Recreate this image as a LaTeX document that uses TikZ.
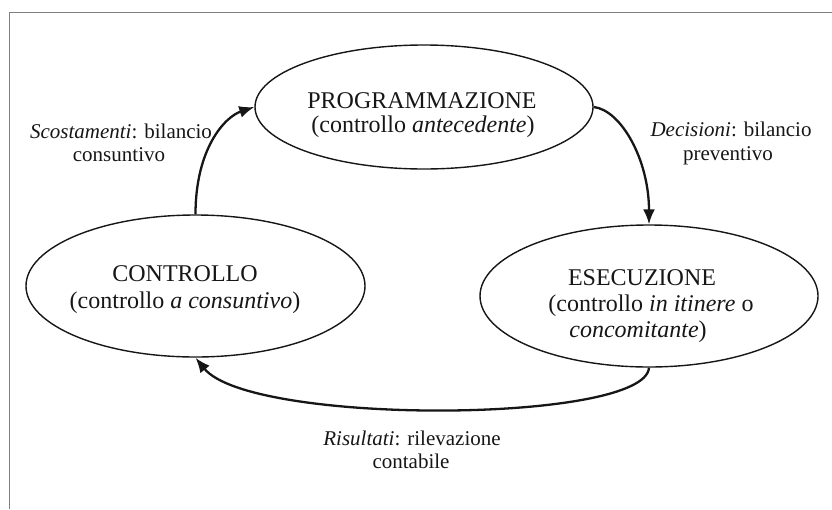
\documentclass[tikz,border=0pt]{standalone}
\usepackage{fontspec}
\setmainfont{Liberation Serif}
\usetikzlibrary{shapes.geometric,arrows.meta}
\definecolor{ink}{HTML}{161616}
\definecolor{framegray}{HTML}{808080}
\tikzset{
  oval/.style={ellipse, draw=ink, line width=1.4pt, inner sep=0pt},
  big/.style={anchor=base, inner sep=0pt, text=ink, font=\fontsize{24}{26}\selectfont},
  lab/.style={anchor=base, inner sep=0pt, text=ink, font=\fontsize{21}{23}\selectfont},
  conn/.style={draw=ink, line width=2.3pt, -{Latex[length=15pt,width=12pt]}},
}
\begin{document}
\begin{tikzpicture}[x=1pt,y=-1pt]
\useasboundingbox (0,0) rectangle (832,509);
% frame (only top and left edges visible)
\draw[framegray, line width=1.5pt] (9.5,509) -- (9.5,12.5) -- (832,12.5);
% ellipses
\node[oval, minimum width=338pt, minimum height=124pt] (p) at (424,107) {};
\node[oval, minimum width=339pt, minimum height=142pt] (c) at (195.5,286) {};
\node[oval, minimum width=338pt, minimum height=142pt] (e) at (649,296) {};
% ellipse texts
\node[big] (p1) at (422,108) {PROGRAMMAZIONE};
\node[big] (p2) at (423,132) {(controllo \textit{antecedente})};
\node[big] (c1) at (185,281) {CONTROLLO};
\node[big] (c2) at (185,308) {(controllo \textit{a consuntivo})};
\node[big] (e1) at (642,285) {ESECUZIONE};
\node[big] (e2) at (651,311) {(controllo \textit{in itinere} o};
\node[big] (e3) at (638,337) {\textit{concomitante})};
% connectors
\draw[conn] (c.north) .. controls +(0,-65) and +(-30,10) .. (p.west);
\draw[conn] (p.east) .. controls +(27,3) and +(0,-65) .. (e.north);
\draw[conn] (e.south) .. controls +(-4,56) and +(55,68) .. (c.south);
% labels
\node[lab] (s1) at (121,138) {\textit{Scostamenti}: bilancio};
\node[lab] (s2) at (119,161) {consuntivo};
\node[lab] (d1) at (731,136) {\textit{Decisioni}: bilancio};
\node[lab] (d2) at (728,160) {preventivo};
\node[lab] (r1) at (412,445) {\textit{Risultati}: rilevazione};
\node[lab] (r2) at (411,468) {contabile};
\end{tikzpicture}
\end{document}
